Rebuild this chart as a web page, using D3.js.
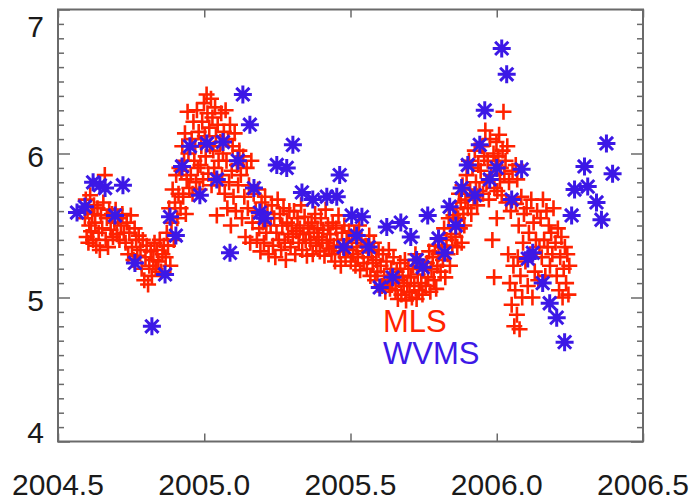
<!DOCTYPE html>
<html>
<head>
<meta charset="utf-8">
<script src="https://cdn.jsdelivr.net/npm/d3@7"></script>
<style>
  html, body { margin: 0; padding: 0; background: #ffffff; }
  svg { display: block; }
</style>
</head>
<body>
<svg id="chart" width="694" height="500"></svg>
<script>
// Axis ticks and labels
const xTicks = [2004.5, 2005.0, 2005.5, 2006.0, 2006.5];
const xTickLabels = ["2004.5", "2005.0", "2005.5", "2006.0", "2006.5"];
const yTicks = [4, 5, 6, 7];
const yTickLabels = ["4", "5", "6", "7"];
const seriesNames = ["MLS", "WVMS"];

// MLS water vapour: [decimal year, value]
const mlsPoints = [
  [2004.592,5.55],[2004.595,5.68],[2004.598,5.42],[2004.601,5.60],[2004.604,5.38],[2004.607,5.50],[2004.610,5.71],[2004.613,5.46],[2004.617,5.58],[2004.620,5.40],[2004.623,5.64],
  [2004.627,5.52],[2004.631,5.36],[2004.635,5.62],[2004.639,5.45],[2004.643,5.33],[2004.647,5.57],[2004.651,5.48],[2004.655,5.66],[2004.660,5.85],[2004.663,5.40],[2004.667,5.55],[2004.671,5.35],[2004.675,5.61],
  [2004.680,5.47],[2004.684,5.58],[2004.688,5.42],[2004.693,5.52],[2004.697,5.61],[2004.701,5.44],[2004.706,5.55],[2004.710,5.40],[2004.715,5.50],[2004.720,5.58],[2004.725,5.45],
  [2004.731,5.38],[2004.735,5.52],[2004.740,5.30],[2004.744,5.45],[2004.749,5.57],[2004.753,5.35],[2004.758,5.26],[2004.762,5.48],[2004.767,5.40],[2004.771,5.29],[2004.776,5.43],
  [2004.782,5.33],[2004.786,5.20],[2004.790,5.40],[2004.795,5.12],[2004.799,5.28],[2004.803,5.36],[2004.808,5.09],[2004.812,5.22],[2004.817,5.32],[2004.821,5.15],[2004.826,5.26],[2004.830,5.38],
  [2004.834,5.20],[2004.838,5.33],[2004.843,5.25],[2004.848,5.40],[2004.852,5.18],[2004.857,5.30],[2004.862,5.36],
  [2004.868,5.28],[2004.872,5.45],[2004.876,5.36],[2004.880,5.62],[2004.884,5.22],[2004.888,5.52],[2004.892,5.75],[2004.896,5.40],[2004.900,5.66],[2004.904,5.85],[2004.908,5.55],[2004.912,5.72],[2004.915,5.90],
  [2004.919,5.62],[2004.922,5.88],[2004.925,6.05],[2004.928,5.70],[2004.931,5.95],[2004.934,6.14],[2004.937,5.58],[2004.940,5.82],[2004.943,6.29],[2004.946,6.00],[2004.949,5.76],
  [2004.954,5.85],[2004.957,6.10],[2004.960,5.72],[2004.963,6.22],[2004.966,5.95],[2004.969,6.05],[2004.972,5.80],[2004.975,6.30],[2004.978,5.90],[2004.981,6.15],[2004.984,5.75],
  [2004.987,5.92],[2004.990,6.05],[2004.993,6.22],[2004.996,5.82],[2004.999,6.35],[2005.002,6.12],[2005.005,5.98],[2005.008,6.41],[2005.011,6.28],[2005.014,5.86],[2005.017,6.18],[2005.020,6.05],[2005.023,6.38],[2005.025,5.78],
  [2005.028,6.25],[2005.031,6.02],[2005.034,5.90],[2005.037,6.32],[2005.040,6.12],[2005.043,5.57],[2005.046,6.20],[2005.049,5.95],[2005.052,5.78],[2005.055,6.08],[2005.058,6.28],[2005.061,5.85],[2005.064,6.00],[2005.067,6.15],[2005.070,5.72],
  [2005.073,6.30],[2005.076,5.95],[2005.079,5.62],[2005.082,6.10],[2005.085,5.80],[2005.088,6.20],[2005.091,5.50],[2005.094,5.88],[2005.097,6.05],[2005.100,5.70],[2005.104,6.14],[2005.108,5.60],[2005.112,5.92],[2005.116,5.78],[2005.120,6.02],
  [2005.125,5.85],[2005.129,5.55],[2005.133,5.98],[2005.137,5.70],[2005.141,5.42],[2005.145,5.90],[2005.149,5.62],[2005.153,5.78],[2005.157,5.38],[2005.161,5.95],[2005.165,5.52],[2005.169,5.72],
  [2005.176,5.60],[2005.180,5.40],[2005.184,5.75],[2005.188,5.48],[2005.192,5.32],[2005.196,5.66],[2005.200,5.52],[2005.204,5.38],[2005.208,5.70],[2005.212,5.45],[2005.216,5.58],[2005.220,5.30],
  [2005.227,5.50],[2005.231,5.64],[2005.235,5.36],[2005.239,5.55],[2005.243,5.28],[2005.247,5.45],[2005.251,5.68],[2005.255,5.40],[2005.259,5.58],[2005.263,5.33],[2005.267,5.50],[2005.271,5.62],[2005.275,5.38],[2005.279,5.26],[2005.283,5.52],[2005.287,5.44],[2005.291,5.60],
  [2005.295,5.35],[2005.299,5.50],[2005.303,5.42],[2005.307,5.60],[2005.311,5.30],[2005.315,5.46],[2005.319,5.55],[2005.323,5.38],[2005.327,5.48],[2005.331,5.64],[2005.335,5.33],[2005.339,5.44],[2005.343,5.56],[2005.347,5.40],[2005.351,5.29],[2005.355,5.50],[2005.359,5.45],
  [2005.363,5.38],[2005.367,5.52],[2005.371,5.30],[2005.375,5.45],[2005.379,5.58],[2005.383,5.36],[2005.387,5.48],[2005.391,5.42],[2005.395,5.32],[2005.399,5.55],[2005.403,5.40],[2005.407,5.47],[2005.411,5.29],[2005.415,5.61],[2005.419,5.38],[2005.423,5.50],[2005.427,5.34],
  [2005.431,5.44],[2005.435,5.30],[2005.439,5.52],[2005.443,5.36],[2005.447,5.25],[2005.451,5.48],[2005.455,5.40],[2005.459,5.57],[2005.463,5.32],[2005.467,5.22],[2005.471,5.45],[2005.475,5.35],[2005.479,5.50],[2005.483,5.28],[2005.487,5.40],[2005.491,5.33],[2005.495,5.46],
  [2005.501,5.25],[2005.505,5.38],[2005.509,5.30],[2005.513,5.45],[2005.517,5.22],[2005.521,5.35],[2005.525,5.28],[2005.529,5.50],[2005.533,5.19],[2005.537,5.40],[2005.541,5.32],[2005.545,5.24],
  [2005.552,5.36],[2005.556,5.20],[2005.560,5.28],[2005.564,5.43],[2005.568,5.15],[2005.572,5.32],[2005.576,5.24],[2005.580,5.38],[2005.584,5.12],[2005.588,5.26],[2005.592,5.18],[2005.596,5.33],
  [2005.603,5.22],[2005.607,5.08],[2005.611,5.30],[2005.615,5.15],[2005.619,5.04],[2005.623,5.25],[2005.627,5.12],[2005.631,5.33],[2005.635,5.06],[2005.639,5.20],[2005.643,5.10],[2005.647,5.28],
  [2005.654,5.05],[2005.658,5.18],[2005.662,4.99],[2005.666,5.12],[2005.670,5.24],[2005.674,5.02],[2005.678,5.15],[2005.682,5.08],[2005.686,5.26],[2005.690,4.98],[2005.694,5.10],[2005.698,5.20],[2005.702,5.04],
  [2005.706,5.14],[2005.710,5.00],[2005.714,5.22],[2005.718,5.08],[2005.722,5.30],[2005.726,4.99],[2005.730,5.16],[2005.734,5.05],[2005.738,5.25],[2005.742,5.10],[2005.746,5.02],[2005.750,5.19],
  [2005.757,5.08],[2005.761,5.24],[2005.765,5.14],[2005.769,5.32],[2005.773,5.04],[2005.777,5.20],[2005.781,5.28],[2005.785,5.12],[2005.789,5.36],[2005.793,5.06],[2005.797,5.22],[2005.801,5.30],
  [2005.808,5.18],[2005.812,5.35],[2005.816,5.26],[2005.820,5.48],[2005.824,5.14],[2005.828,5.40],[2005.832,5.30],[2005.836,5.55],[2005.840,5.22],[2005.844,5.44],[2005.848,5.36],[2005.852,5.57],
  [2005.859,5.42],[2005.862,5.62],[2005.865,5.35],[2005.868,5.55],[2005.871,5.72],[2005.874,5.48],[2005.877,5.66],[2005.880,5.38],[2005.883,5.78],[2005.886,5.58],[2005.889,5.50],
  [2005.893,5.68],[2005.897,5.85],[2005.901,5.62],[2005.905,5.95],[2005.909,5.75],[2005.913,5.58],[2005.917,5.90],[2005.921,5.70],[2005.925,6.02],[2005.929,5.80],[2005.933,5.64],[2005.937,5.92],[2005.941,5.74],
  [2005.945,5.88],[2005.949,6.05],[2005.953,5.72],[2005.957,5.98],[2005.961,6.16],[2005.965,5.80],[2005.969,5.95],[2005.973,5.68],[2005.977,6.10],[2005.981,5.85],[2005.985,5.40],[2005.989,6.00],[2005.991,5.14],[2005.992,5.76],
  [2005.996,5.92],[2005.999,6.08],[2006.000,5.55],[2006.002,5.74],[2006.005,5.98],[2006.008,6.13],[2006.011,5.82],[2006.014,5.90],[2006.017,5.71],[2006.020,6.02],[2006.023,6.29],[2006.026,5.86],
  [2006.030,5.95],[2006.033,5.66],[2006.036,6.05],[2006.039,5.30],[2006.042,5.80],[2006.045,5.10],[2006.048,5.60],[2006.051,4.95],[2006.054,5.88],[2006.057,5.22],[2006.060,4.80],
  [2006.063,5.05],[2006.065,5.92],[2006.066,5.65],[2006.069,4.88],[2006.070,5.82],[2006.072,5.28],[2006.075,5.50],[2006.078,4.78],[2006.081,5.15],[2006.084,5.70],[2006.087,5.00],[2006.090,5.38],[2006.093,5.58],
  [2006.098,5.25],[2006.102,5.62],[2006.106,5.08],[2006.110,5.45],[2006.114,5.30],[2006.118,5.68],[2006.122,5.00],[2006.126,5.52],[2006.130,5.18],[2006.134,5.40],[2006.138,5.60],[2006.142,5.12],[2006.146,5.35],
  [2006.150,5.55],[2006.154,5.28],[2006.158,5.68],[2006.162,5.40],[2006.166,5.15],[2006.170,5.60],[2006.174,5.35],[2006.178,5.50],[2006.182,5.22],[2006.186,5.45],[2006.190,5.30],[2006.194,5.62],
  [2006.201,5.38],[2006.205,5.15],[2006.209,5.48],[2006.213,5.05],[2006.217,5.28],[2006.221,5.42],[2006.225,5.00],[2006.229,5.20],[2006.233,5.35],[2006.237,5.10],[2006.241,5.30],[2006.245,5.02],[2006.248,5.22]
];

// WVMS water vapour: [decimal year, value]
const wvmsPoints = [
  [2004.565,5.59],[2004.592,5.63],[2004.620,5.80],[2004.643,5.78],[2004.661,5.76],[2004.695,5.57],[2004.722,5.78],
  [2004.763,5.24],[2004.821,4.80],[2004.866,5.16],[2004.883,5.56],[2004.903,5.43],[2004.924,5.91],[2004.951,6.05],
  [2004.985,5.71],[2005.009,6.07],[2005.043,5.82],[2005.064,6.08],[2005.088,5.31],[2005.115,5.95],[2005.132,6.41],
  [2005.156,6.20],[2005.170,5.76],[2005.190,5.59],[2005.207,5.55],[2005.248,5.92],[2005.282,5.90],[2005.303,6.06],
  [2005.334,5.73],[2005.371,5.68],[2005.419,5.70],[2005.453,5.70],[2005.463,5.85],[2005.477,5.35],[2005.504,5.57],
  [2005.521,5.43],[2005.539,5.56],[2005.562,5.35],[2005.600,5.07],[2005.624,5.49],[2005.644,5.14],[2005.672,5.52],
  [2005.706,5.42],[2005.726,5.26],[2005.747,5.21],[2005.764,5.57],[2005.801,5.41],[2005.822,5.31],[2005.839,5.63],
  [2005.860,5.50],[2005.880,5.76],[2005.901,5.92],[2005.925,5.71],[2005.942,6.06],[2005.959,6.30],[2005.976,5.82],
  [2006.000,5.90],[2006.017,6.73],[2006.034,6.55],[2006.051,5.68],[2006.085,5.89],[2006.106,5.27],[2006.123,5.31],
  [2006.157,5.10],[2006.181,4.96],[2006.205,4.86],[2006.232,4.69],[2006.256,5.57],[2006.266,5.75],[2006.300,5.91],
  [2006.311,5.77],[2006.341,5.66],[2006.358,5.54],[2006.375,6.07],[2006.396,5.86]
];

const mlsColor = "#ff2200";
const wvmsColor = "#3c18e6";
const axisColor = "#6a6a6a";

const svg = d3.select("#chart");
const plot = { left: 58, right: 643, top: 9.5, bottom: 441.5 };

const x = d3.scaleLinear().domain([2004.5, 2006.5]).range([plot.left, plot.right]);
const y = d3.scaleLinear().domain([4, 7]).range([plot.bottom, plot.top]);

// Markers: MLS as plus signs, WVMS as asterisks
const plusPath = "M-8,0H8M0,-8V8";
const starPath = "M-9,0H9M0,-9V9M-6.6,-6.6L6.6,6.6M-6.6,6.6L6.6,-6.6";

svg.append("g")
  .selectAll("path")
  .data(mlsPoints)
  .join("path")
  .attr("d", plusPath)
  .attr("transform", d => `translate(${x(d[0])},${y(d[1])})`)
  .attr("fill", "none")
  .attr("stroke", mlsColor)
  .attr("stroke-width", 2.6);

svg.append("g")
  .selectAll("path")
  .data(wvmsPoints)
  .join("path")
  .attr("d", starPath)
  .attr("transform", d => `translate(${x(d[0])},${y(d[1])})`)
  .attr("fill", "none")
  .attr("stroke", wvmsColor)
  .attr("stroke-width", 3);

// Minor (0.1) and major (integer) ticks on the vertical axes
const minorY = d3.range(40, 71).map(v => v / 10).filter(v => !yTicks.includes(v));

function styleAxis(g) {
  g.select(".domain").remove();
  g.selectAll("line").attr("stroke", axisColor).attr("stroke-width", 1.5);
  g.selectAll("text").remove();
}

svg.append("g").attr("transform", `translate(${plot.left},0)`)
  .call(d3.axisLeft(y).tickValues(minorY).tickSize(-6)).call(styleAxis);
svg.append("g").attr("transform", `translate(${plot.left},0)`)
  .call(d3.axisLeft(y).tickValues(yTicks).tickSize(-12)).call(styleAxis);
svg.append("g").attr("transform", `translate(${plot.right},0)`)
  .call(d3.axisRight(y).tickValues(minorY).tickSize(-6)).call(styleAxis);
svg.append("g").attr("transform", `translate(${plot.right},0)`)
  .call(d3.axisRight(y).tickValues(yTicks).tickSize(-12)).call(styleAxis);
svg.append("g").attr("transform", `translate(0,${plot.bottom})`)
  .call(d3.axisBottom(x).tickValues(xTicks).tickSize(-8)).call(styleAxis);
svg.append("g").attr("transform", `translate(0,${plot.top})`)
  .call(d3.axisTop(x).tickValues(xTicks).tickSize(-8)).call(styleAxis);

// Frame
svg.append("rect")
  .attr("x", plot.left).attr("y", plot.top)
  .attr("width", plot.right - plot.left).attr("height", plot.bottom - plot.top)
  .attr("fill", "none").attr("stroke", axisColor).attr("stroke-width", 2);

// Tick labels
const font = "'Liberation Sans', Arial, Helvetica, sans-serif";
svg.append("g").selectAll("text")
  .data(xTicks)
  .join("text")
  .attr("x", d => x(d))
  .attr("y", 495)
  .attr("text-anchor", "middle")
  .attr("font-family", font)
  .attr("font-size", 30)
  .attr("fill", "#1a1a1a")
  .text((d, i) => xTickLabels[i]);

svg.append("g").selectAll("text")
  .data(yTicks)
  .join("text")
  .attr("x", 44)
  .attr("y", d => Math.min(Math.max(y(d) + 3, 26), 432))
  .attr("dy", "0.36em")
  .attr("text-anchor", "end")
  .attr("font-family", font)
  .attr("font-size", 30)
  .attr("fill", "#1a1a1a")
  .text((d, i) => yTickLabels[i]);

// Series names
svg.append("text")
  .attr("x", 383).attr("y", 332)
  .attr("font-family", font).attr("font-size", 31)
  .attr("fill", mlsColor)
  .text(seriesNames[0]);
svg.append("text")
  .attr("x", 383).attr("y", 364)
  .attr("font-family", font).attr("font-size", 31)
  .attr("fill", wvmsColor)
  .text(seriesNames[1]);
</script>
</body>
</html>
